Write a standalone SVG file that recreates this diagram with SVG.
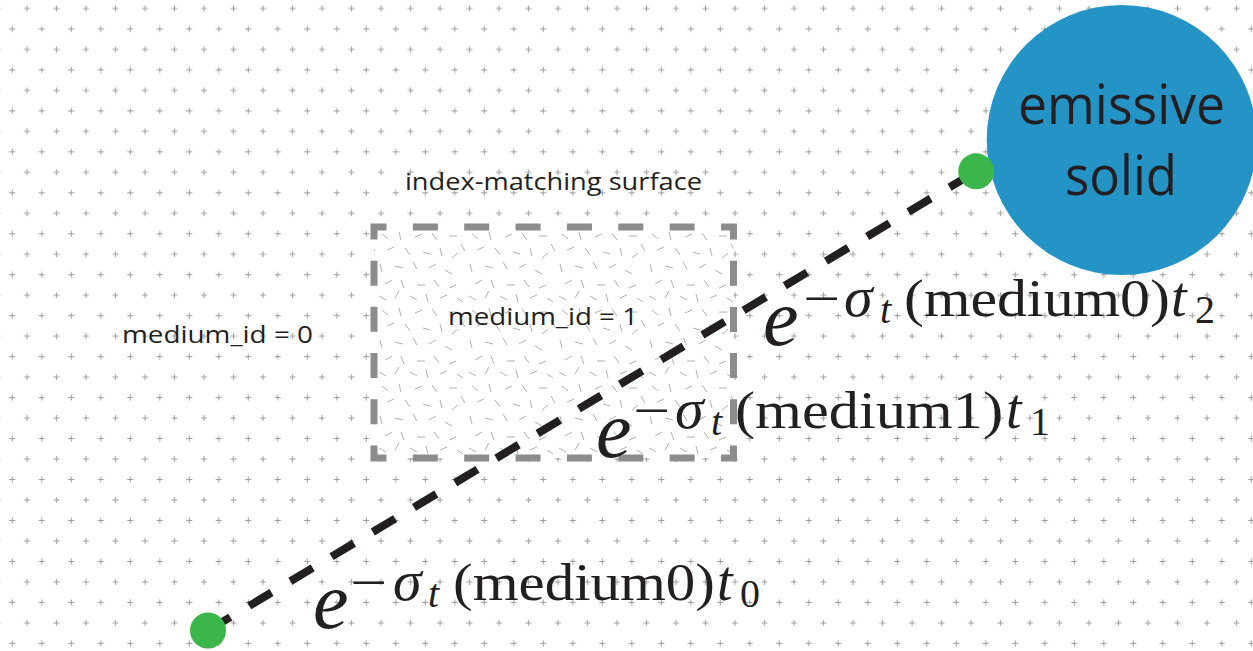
<svg xmlns="http://www.w3.org/2000/svg" width="1253" height="651" viewBox="0 0 1253 651">
<style>
.lbl{font-family:"Open Sans","Noto Sans",sans-serif;fill:#231f20}
.m{font-family:"Liberation Serif","Times New Roman",serif;fill:#231f20}
.it{font-style:italic}
.e{font-size:80px}
.x{font-size:52px}
.g{font-size:58px}
.tt{font-size:56px}
.s{font-size:40px}
.dot{fill:#3cb54a}
</style>
<defs>
<pattern id="grid" patternUnits="userSpaceOnUse" x="5" y="-1.5" width="29.5" height="40.96">
<path d="M19 10h6M22 7v6M4.25 30.48h6M7.25 27.48v6" stroke="#9b9b9b" stroke-width="1" fill="none"/>
</pattern>
<pattern id="noise" patternUnits="userSpaceOnUse" x="377" y="230" width="90" height="76">
<path d="M5 4l6 5M22 2l2 8M38 7l7-3M55 3l5 7M72 6h8M84 14l4 7M10 20l7-3M28 18l5 7M46 22l7 2M63 18l2 8M75 28l6-5M3 34l2 8M18 36l8 2M36 32l4 7M52 38l7-4M68 40l7 4M8 54l7-4M24 50l3 8M40 55h8M57 50l5 7M72 58l7-3M2 66l7 4M18 68l4-7M33 66l7 4M49 64l2 8M63 68l7-3M80 68l6 4" stroke="#9a9a9a" stroke-width="0.8" fill="none"/>
</pattern>
</defs>
<rect width="1253" height="651" fill="#fff"/>
<rect width="1253" height="651" fill="url(#grid)"/>

<g id="medium1-region">
<rect x="374" y="227" width="359.5" height="231" fill="#fff"/>
<rect x="374" y="227" width="359.5" height="231" fill="url(#noise)"/>
<path d="M386.5 227H733.5V458H374V227H386.5" fill="none" stroke="#8c8c8c" stroke-width="7" stroke-linejoin="miter" stroke-dasharray="0 26.36 25 26.36 25 26.36 25 26.36 25 26.36 25 26.36 25 26.36 25 21.2 25 21.2 25 21.2 25 21.2 25 21.2 25 26.36 25 26.36 25 26.36 25 26.36 25 26.36 25 26.36 25 26.36 25 21.2 25 21.2 25 21.2 25 21.2 25 21.2 25"/>
</g>

<g id="labels">
<text class="lbl" x="405" y="189.5" font-size="23.5" textLength="297" lengthAdjust="spacingAndGlyphs">index-matching surface</text>
<text class="lbl" x="122" y="343" font-size="24" textLength="191" lengthAdjust="spacingAndGlyphs">medium_id = 0</text>
<text class="lbl" x="448" y="325" font-size="24" textLength="190" lengthAdjust="spacingAndGlyphs">medium_id = 1</text>
</g>

<g id="label-t2">
<text class="m it e" x="763" y="345">e</text>
<text class="m x" x="803" y="316" textLength="37" lengthAdjust="spacingAndGlyphs">−</text>
<text class="m it g" x="844" y="316">σ</text>
<text class="m it s" x="880" y="323">t</text>
<text class="m x" x="904" y="316" textLength="266" lengthAdjust="spacingAndGlyphs">(medium0)</text>
<text class="m it tt" x="1171" y="316">t</text>
<text class="m s" x="1195" y="323">2</text>
</g>

<g id="label-t1">
<text class="m it e" x="596" y="457">e</text>
<text class="m x" x="633" y="428" textLength="37" lengthAdjust="spacingAndGlyphs">−</text>
<text class="m it g" x="675" y="428">σ</text>
<text class="m it s" x="711" y="435">t</text>
<text class="m x" x="735" y="428" textLength="268" lengthAdjust="spacingAndGlyphs">(medium1)</text>
<text class="m it tt" x="1006" y="428">t</text>
<text class="m s" x="1030" y="435">1</text>
</g>

<g id="label-t0">
<text class="m it e" x="313" y="628">e</text>
<text class="m x" x="350" y="600" textLength="37" lengthAdjust="spacingAndGlyphs">−</text>
<text class="m it g" x="393" y="600">σ</text>
<text class="m it s" x="428" y="607">t</text>
<text class="m x" x="453" y="600" textLength="262" lengthAdjust="spacingAndGlyphs">(medium0)</text>
<text class="m it tt" x="717" y="600">t</text>
<text class="m s" x="740" y="607">0</text>
</g>

<g id="connectors">
<path d="M208 630.5L976.2 171.3" fill="none" stroke="#231f20" stroke-width="8" stroke-dasharray="26 22"/>
</g>

<g id="emissive-solid">
<circle cx="1121.7" cy="140" r="135" fill="#2494c7"/>
<text class="lbl" x="1018" y="124" font-size="55" textLength="207" lengthAdjust="spacingAndGlyphs">emissive</text>
<text class="lbl" x="1065" y="195" font-size="55" textLength="112" lengthAdjust="spacingAndGlyphs">solid</text>
</g>

<g id="end-point">
<circle class="dot" cx="976.2" cy="171.3" r="18"/>
</g>
<g id="start-point">
<circle class="dot" cx="208" cy="630.5" r="18"/>
</g>
</svg>
